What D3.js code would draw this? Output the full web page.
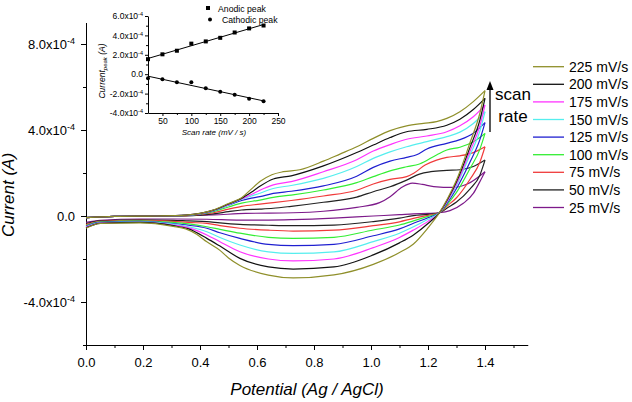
<!DOCTYPE html>
<html><head><meta charset="utf-8">
<script src="https://cdn.jsdelivr.net/npm/d3@7"></script>
<style>
body{margin:0;background:#fff}
text{font-family:"Liberation Sans",Arial,sans-serif;fill:#000}
</style>
</head><body>
<svg id="c" width="632" height="402"></svg>
<script>
// ---------- data (current in units of 1e-4 A, potential in V) ----------
const scanRates = [225, 200, 175, 150, 125, 100, 75, 50, 25];
const rateLabels = ["225 mV/s","200 mV/s","175 mV/s","150 mV/s","125 mV/s","100 mV/s","75 mV/s","50 mV/s","25 mV/s"];
const rateColors = ["#8f8f2a","#111111","#ff33ff","#55eeee","#1f1fd0","#33ee33","#f03a3a","#222222","#7d1a8a"];

const fwd225 = [[0,-0.08],[0.1,-0.02],[0.25,0],[0.35,0.04],[0.4,0.12],[0.447,0.28],[0.5,0.58],[0.546,0.85],[0.58,1.25],[0.61,1.6],[0.652,1.92],[0.692,2.06],[0.75,2.15],[0.833,2.55],[0.891,2.88],[0.95,3.22],[1.008,3.61],[1.067,3.97],[1.125,4.19],[1.184,4.31],[1.23,4.39],[1.266,4.54],[1.312,4.85],[1.359,5.32],[1.4,5.83]];
const fwd200 = [[0,-0.08],[0.1,-0.02],[0.25,0],[0.35,0.04],[0.4,0.12],[0.447,0.27],[0.5,0.56],[0.546,0.82],[0.58,1.1],[0.61,1.38],[0.657,1.72],[0.72,1.87],[0.833,2.33],[0.95,2.95],[1.008,3.3],[1.067,3.65],[1.125,3.92],[1.196,4.03],[1.266,4.22],[1.312,4.5],[1.359,4.95],[1.4,5.47]];
const fwd175 = [[0,-0.08],[0.1,-0.02],[0.25,0],[0.35,0.04],[0.4,0.11],[0.447,0.26],[0.5,0.54],[0.546,0.8],[0.58,1.0],[0.61,1.2],[0.657,1.45],[0.72,1.6],[0.833,2.06],[0.95,2.62],[1.008,3.02],[1.067,3.32],[1.125,3.57],[1.196,3.72],[1.266,3.92],[1.312,4.2],[1.359,4.62],[1.4,5.16]];
const fwd150 = [[0,-0.08],[0.1,-0.02],[0.25,0],[0.35,0.04],[0.4,0.11],[0.447,0.25],[0.5,0.52],[0.546,0.78],[0.58,0.93],[0.61,1.06],[0.657,1.28],[0.72,1.42],[0.833,1.75],[0.95,2.3],[1.008,2.68],[1.067,2.98],[1.125,3.22],[1.196,3.46],[1.266,3.69],[1.312,3.9],[1.359,4.3],[1.4,4.85]];
const fwd125 = [[0,-0.08],[0.1,-0.02],[0.25,0],[0.35,0.03],[0.4,0.1],[0.447,0.24],[0.5,0.5],[0.546,0.72],[0.58,0.83],[0.61,0.9],[0.657,1.05],[0.72,1.15],[0.833,1.4],[0.95,1.85],[1.008,2.26],[1.067,2.55],[1.125,2.73],[1.16,2.85],[1.196,3.12],[1.266,3.38],[1.312,3.55],[1.359,3.85],[1.4,4.34]];
const fwd100 = [[0,-0.08],[0.1,-0.02],[0.25,0],[0.35,0.03],[0.4,0.09],[0.447,0.2],[0.5,0.42],[0.546,0.6],[0.61,0.74],[0.657,0.87],[0.72,0.97],[0.833,1.21],[0.95,1.55],[1.008,1.83],[1.067,2.1],[1.125,2.29],[1.17,2.42],[1.23,2.84],[1.266,3.07],[1.312,3.2],[1.359,3.45],[1.4,3.84]];
const fwd75  = [[0,-0.08],[0.1,-0.02],[0.25,0],[0.35,0.02],[0.4,0.07],[0.447,0.15],[0.5,0.32],[0.546,0.45],[0.61,0.55],[0.657,0.62],[0.72,0.72],[0.833,0.93],[0.95,1.2],[1.008,1.49],[1.067,1.7],[1.125,1.83],[1.15,1.99],[1.19,2.37],[1.23,2.6],[1.266,2.73],[1.312,2.8],[1.359,2.95],[1.4,3.22]];
const fwd50  = [[0,-0.08],[0.1,-0.02],[0.25,0],[0.35,0.01],[0.4,0.04],[0.447,0.1],[0.5,0.2],[0.546,0.28],[0.61,0.32],[0.657,0.36],[0.72,0.45],[0.833,0.64],[0.95,0.88],[1.008,1.13],[1.067,1.36],[1.125,1.67],[1.17,1.95],[1.21,2.06],[1.266,2.12],[1.312,2.15],[1.359,2.3],[1.4,2.6]];
const fwd25  = [[0,-0.08],[0.1,-0.02],[0.25,0],[0.447,0.05],[0.56,0.12],[0.727,0.15],[0.833,0.22],[0.95,0.4],[1.03,0.62],[1.067,0.9],[1.11,1.35],[1.145,1.53],[1.18,1.47],[1.22,1.37],[1.288,1.33],[1.34,1.5],[1.4,2.06]];

const rev225 = [[1.4,5.83],[1.382,4.78],[1.347,3.4],[1.3,1.67],[1.27,0.85],[1.24,0.15],[1.2,-0.55],[1.149,-1.3],[1.1,-1.7],[1.008,-2.25],[0.87,-2.74],[0.727,-2.88],[0.64,-2.75],[0.54,-2.3],[0.5,-1.95],[0.47,-1.6],[0.424,-1.2],[0.388,-0.85],[0.35,-0.6],[0.306,-0.48],[0.19,-0.32],[0.05,-0.35],[0,-0.57]];
const rev200 = [[1.4,5.47],[1.382,4.46],[1.347,3.18],[1.3,1.59],[1.27,0.8],[1.24,0.15],[1.2,-0.35],[1.149,-0.88],[1.1,-1.25],[1.008,-1.81],[0.87,-2.37],[0.727,-2.47],[0.64,-2.37],[0.54,-1.97],[0.47,-1.4],[0.424,-1.04],[0.36,-0.6],[0.306,-0.45],[0.19,-0.3],[0.05,-0.34],[0,-0.55]];
const rev175 = [[1.4,5.16],[1.382,4.2],[1.347,3.0],[1.3,1.5],[1.27,0.75],[1.24,0.15],[1.2,-0.25],[1.149,-0.65],[1.1,-1.0],[1.008,-1.47],[0.87,-2.0],[0.727,-2.09],[0.64,-2.0],[0.54,-1.66],[0.47,-1.2],[0.424,-0.88],[0.36,-0.55],[0.306,-0.42],[0.19,-0.29],[0.05,-0.33],[0,-0.52]];
const rev150 = [[1.4,4.85],[1.382,3.95],[1.347,2.83],[1.3,1.42],[1.27,0.72],[1.24,0.15],[1.2,-0.15],[1.149,-0.5],[1.1,-0.8],[1.008,-1.19],[0.87,-1.67],[0.727,-1.74],[0.64,-1.67],[0.54,-1.35],[0.47,-1.0],[0.424,-0.73],[0.36,-0.5],[0.306,-0.38],[0.19,-0.27],[0.05,-0.32],[0,-0.5]];
const rev125 = [[1.4,4.34],[1.382,3.55],[1.347,2.5],[1.3,1.28],[1.27,0.65],[1.24,0.15],[1.2,-0.08],[1.149,-0.34],[1.1,-0.6],[1.008,-0.92],[0.87,-1.32],[0.727,-1.38],[0.64,-1.32],[0.54,-1.04],[0.47,-0.78],[0.424,-0.57],[0.36,-0.43],[0.306,-0.35],[0.19,-0.25],[0.05,-0.3],[0,-0.48]];
const rev100 = [[1.4,3.84],[1.382,3.1],[1.347,2.2],[1.3,1.1],[1.27,0.58],[1.24,0.15],[1.2,-0.02],[1.149,-0.23],[1.1,-0.42],[1.008,-0.65],[0.87,-0.99],[0.727,-1.04],[0.64,-0.99],[0.54,-0.8],[0.47,-0.62],[0.424,-0.5],[0.36,-0.37],[0.306,-0.3],[0.19,-0.22],[0.05,-0.27],[0,-0.45]];
const rev75  = [[1.4,3.22],[1.382,2.5],[1.347,1.7],[1.3,0.85],[1.27,0.5],[1.24,0.15],[1.2,0.03],[1.149,-0.11],[1.1,-0.27],[1.008,-0.45],[0.87,-0.66],[0.727,-0.7],[0.64,-0.66],[0.54,-0.57],[0.47,-0.45],[0.424,-0.34],[0.36,-0.3],[0.306,-0.25],[0.19,-0.2],[0.05,-0.25],[0,-0.4]];
const rev50  = [[1.4,2.6],[1.382,1.9],[1.347,1.25],[1.3,0.65],[1.27,0.4],[1.24,0.15],[1.2,0.08],[1.149,0.02],[1.1,-0.1],[1.008,-0.26],[0.87,-0.42],[0.727,-0.45],[0.64,-0.43],[0.54,-0.39],[0.47,-0.32],[0.424,-0.26],[0.36,-0.23],[0.306,-0.2],[0.19,-0.18],[0.05,-0.22],[0,-0.35]];
const rev25  = [[1.4,2.06],[1.382,1.6],[1.359,1.05],[1.324,0.59],[1.277,0.25],[1.24,0.15],[1.2,0.12],[1.149,0.1],[1.1,0.06],[1.008,0.0],[0.87,-0.1],[0.727,-0.17],[0.64,-0.19],[0.54,-0.19],[0.424,-0.15],[0.306,-0.14],[0.19,-0.14],[0.05,-0.2],[0,-0.3]];

const forwardScans = [fwd225, fwd200, fwd175, fwd150, fwd125, fwd100, fwd75, fwd50, fwd25];
const reverseScans = [rev225, rev200, rev175, rev150, rev125, rev100, rev75, rev50, rev25];

const xTickValues = [0, 0.2, 0.4, 0.6, 0.8, 1.0, 1.2, 1.4];
const xMinorTicks = [0.1, 0.3, 0.5, 0.7, 0.9, 1.1, 1.3, 1.5];
const yTickValues = [-4e-4, 0, 4e-4, 8e-4];
const yMinorTicks = [-6e-4, -2e-4, 2e-4, 6e-4];

// inset
const insetRates = [25, 50, 75, 100, 125, 150, 175, 200, 225];
const anodicPeak = [1.55, 2.05, 2.42, 3.15, 3.38, 3.75, 4.3, 4.72, 5.02];
const cathodicPeak = [-0.42, -0.52, -0.83, -0.83, -1.45, -1.82, -2.12, -2.52, -2.8];
const insetXTicks = [50, 100, 150, 200, 250];
const insetXMinor = [75, 125, 175, 225];
const insetYTicks = [-4e-4, -2e-4, 0, 2e-4, 4e-4, 6e-4];
const insetYMinor = [-3e-4, -1e-4, 1e-4, 3e-4, 5e-4];

// ---------- drawing ----------
const UNIT = 1e-4;
const svg = d3.select("#c");
const x = d3.scaleLinear().domain([0, 1.55]).range([86, 527.75]);
const y = d3.scaleLinear().domain([-6e-4, 9e-4]).range([345, 22.5]);

function sciLabel(sel, v, supSize) {
  sel.text(null);
  if (Math.abs(v) < 1e-12) { sel.append("tspan").text("0.0"); return; }
  sel.append("tspan").text((v / UNIT).toFixed(1) + "x10");
  sel.append("tspan").attr("dy", "-0.5em").attr("font-size", supSize).text("-4");
}
function styleAxis(g, fs) {
  g.attr("font-family", null).attr("font-size", fs);
  g.selectAll("path,line").attr("stroke", "#000").attr("stroke-width", 1);
}

// main x axis
const gx = svg.append("g").attr("transform", "translate(0,345)")
  .call(d3.axisBottom(x).tickValues(xTickValues).tickSize(5).tickPadding(8).tickSizeOuter(0).tickFormat(d3.format(".1f")));
styleAxis(gx, 13);
const gxm = svg.append("g").attr("transform", "translate(0,345)")
  .call(d3.axisBottom(x).tickValues(xMinorTicks).tickSize(3).tickFormat(""));
gxm.select(".domain").remove(); styleAxis(gxm, 13);

// main y axis
const gy = svg.append("g").attr("transform", "translate(86,0)")
  .call(d3.axisLeft(y).tickValues(yTickValues).tickSize(5).tickPadding(6).tickSizeOuter(0));
styleAxis(gy, 13);
gy.selectAll(".tick text").each(function(d){ sciLabel(d3.select(this), d, "9px"); });
const gym = svg.append("g").attr("transform", "translate(86,0)")
  .call(d3.axisLeft(y).tickValues(yMinorTicks).tickSize(3).tickFormat(""));
gym.select(".domain").remove(); styleAxis(gym, 13);

// titles
svg.append("text").attr("x", 307).attr("y", 395).attr("text-anchor", "middle")
  .attr("font-size", 17).attr("font-style", "italic").text("Potential (Ag / AgCl)");
svg.append("text").attr("transform", "translate(14,195) rotate(-90)").attr("text-anchor", "middle")
  .attr("font-size", 17).attr("font-style", "italic").text("Current (A)");

// curves
const line = d3.line().x(d => x(d[0])).y(d => y(d[1] * UNIT)).curve(d3.curveMonotoneX);
const curves = svg.append("g").attr("fill", "none").attr("stroke-width", 1.2);
for (let i = scanRates.length - 1; i >= 0; i--) {
  curves.append("path").attr("d", line(forwardScans[i])).attr("stroke", rateColors[i]);
  const rv = reverseScans[i].slice().sort((a, b) => a[0] - b[0]);
  curves.append("path").attr("d", line(rv)).attr("stroke", rateColors[i]);
}

// legend
const leg = svg.append("g");
scanRates.forEach((r, i) => {
  const yy = 66.7 + i * 17.6;
  leg.append("line").attr("x1", 533).attr("x2", 564).attr("y1", yy).attr("y2", yy)
    .attr("stroke", rateColors[i]).attr("stroke-width", 1.3);
  leg.append("text").attr("x", 569).attr("y", yy + 5).attr("font-size", 14).text(rateLabels[i]);
});

// scan rate arrow
svg.append("line").attr("x1", 490).attr("x2", 490).attr("y1", 132).attr("y2", 88).attr("stroke", "#000").attr("stroke-width", 1.3);
svg.append("path").attr("d", "M490,81L486.5,90L493.5,90Z").attr("fill", "#000");
svg.append("text").attr("x", 513).attr("y", 100).attr("text-anchor", "middle").attr("font-size", 17).text("scan");
svg.append("text").attr("x", 513).attr("y", 121.5).attr("text-anchor", "middle").attr("font-size", 17).text("rate");

// ---------- inset ----------
const xi = d3.scaleLinear().domain([25, 250]).range([148, 278]);
const yi = d3.scaleLinear().domain([-4e-4, 6e-4]).range([113, 16]);
const gix = svg.append("g").attr("transform", "translate(0,113)")
  .call(d3.axisBottom(xi).tickValues(insetXTicks).tickSize(3).tickPadding(2).tickSizeOuter(0));
styleAxis(gix, 8.5);
const gixm = svg.append("g").attr("transform", "translate(0,113)")
  .call(d3.axisBottom(xi).tickValues(insetXMinor).tickSize(2).tickFormat(""));
gixm.select(".domain").remove(); styleAxis(gixm, 8.5);
const giy = svg.append("g").attr("transform", "translate(148,0)")
  .call(d3.axisLeft(yi).tickValues(insetYTicks).tickSize(3).tickPadding(2).tickSizeOuter(0));
styleAxis(giy, 8.5);
giy.selectAll(".tick text").each(function(d){ sciLabel(d3.select(this), d, "5.5px"); });
const giym = svg.append("g").attr("transform", "translate(148,0)")
  .call(d3.axisLeft(yi).tickValues(insetYMinor).tickSize(2).tickFormat(""));
giym.select(".domain").remove(); styleAxis(giym, 8.5);

svg.append("text").attr("x", 214).attr("y", 135).attr("text-anchor", "middle")
  .attr("font-size", 8).attr("font-style", "italic").text("Scan rate (mV / s)");
const yl = svg.append("text").attr("transform", "translate(105,71) rotate(-90)").attr("text-anchor", "middle")
  .attr("font-size", 8.5).attr("font-style", "italic");
yl.append("tspan").text("Current");
yl.append("tspan").attr("font-size", 6).attr("dy", 2).text("peak");
yl.append("tspan").attr("dy", -2).text(" (A)");

// linear fits
function fit(xs, ys) {
  const mx = d3.mean(xs), my = d3.mean(ys);
  let sxy = 0, sxx = 0;
  xs.forEach((v, i) => { sxy += (v - mx) * (ys[i] - my); sxx += (v - mx) * (v - mx); });
  const b = sxy / sxx; return [b, my - b * mx];
}
const fitLine = d3.line().x(d => xi(d[0])).y(d => yi(d[1] * UNIT));
[anodicPeak, cathodicPeak].forEach(arr => {
  const [b, a] = fit(insetRates, arr);
  const ends = [insetRates[0], insetRates[insetRates.length - 1]];
  svg.append("path").attr("d", fitLine(ends.map(r => [r, a + b * r]))).attr("stroke", "#000").attr("fill", "none").attr("stroke-width", 1);
});
svg.append("g").selectAll("rect").data(insetRates).join("rect")
  .attr("x", (d, i) => xi(d) - 2).attr("y", (d, i) => yi(anodicPeak[i] * UNIT) - 2)
  .attr("width", 4).attr("height", 4).attr("fill", "#000");
svg.append("g").selectAll("circle").data(insetRates).join("circle")
  .attr("cx", d => xi(d)).attr("cy", (d, i) => yi(cathodicPeak[i] * UNIT)).attr("r", 2).attr("fill", "#000");

// inset legend
svg.append("rect").attr("x", 206).attr("y", 6).attr("width", 4).attr("height", 4).attr("fill", "#000");
svg.append("text").attr("x", 218).attr("y", 11.5).attr("font-size", 8.7).text("Anodic peak");
svg.append("circle").attr("cx", 210).attr("cy", 19.5).attr("r", 2).attr("fill", "#000");
svg.append("text").attr("x", 222).attr("y", 23).attr("font-size", 8.7).text("Cathodic peak");
</script>
</body></html>
